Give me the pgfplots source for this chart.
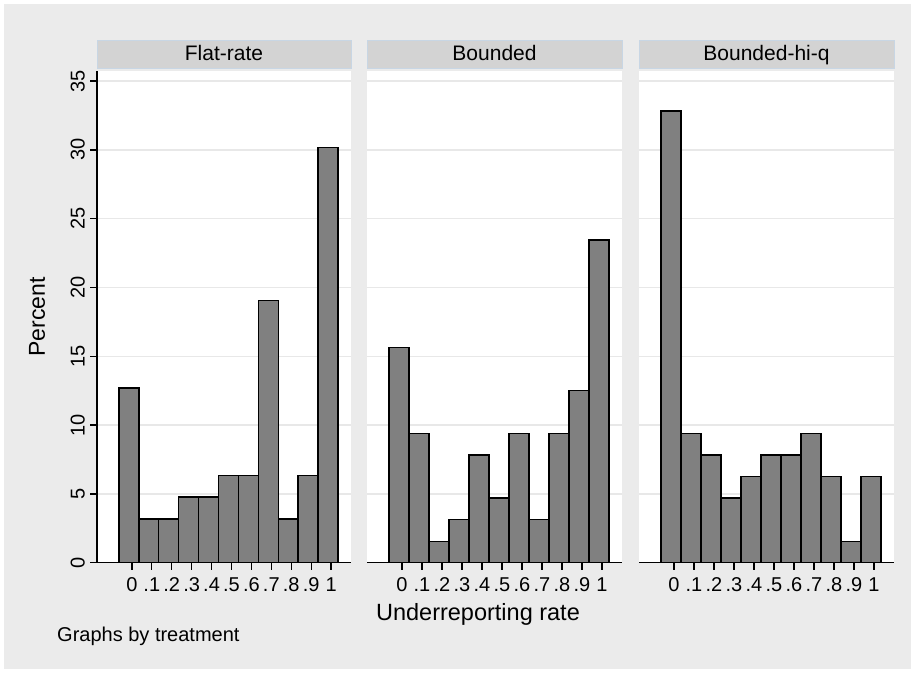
\documentclass[border=0pt]{standalone}
\usepackage{pgfplots}
\pgfplotsset{compat=1.18}
\usepackage{fontspec}
\setmainfont{Liberation Sans}
\definecolor{bgGray}{RGB}{235,235,235}
\definecolor{hdrGray}{RGB}{211,211,211}
\definecolor{hdrLine}{RGB}{200,214,228}
\definecolor{barGray}{RGB}{128,128,128}
\definecolor{gridGray}{RGB}{232,232,232}

\pgfplotstableread{
x y
0.0 12.698
0.1 3.175
0.2 3.175
0.3 4.762
0.4 4.762
0.5 6.349
0.6 6.349
0.7 19.048
0.8 3.175
0.9 6.349
1.0 30.159
}\flatrate
\pgfplotstableread{
x y
0.0 15.625
0.1 9.375
0.2 1.5625
0.3 3.125
0.4 7.8125
0.5 4.6875
0.6 9.375
0.7 3.125
0.8 9.375
0.9 12.5
1.0 23.4375
}\bounded
\pgfplotstableread{
x y
0.0 32.8125
0.1 9.375
0.2 7.8125
0.3 4.6875
0.4 6.25
0.5 7.8125
0.6 7.8125
0.7 9.375
0.8 6.25
0.9 1.5625
1.0 6.25
}\boundedhiq

\pgfplotsset{
  panel/.style={
    scale only axis, width=255pt, height=491.7pt,
    xmin=-0.175, xmax=1.1, ymin=0, ymax=35.73,
    axis background/.style={fill=white},
    separate axis lines,
    axis x line*=bottom, axis y line*=left,
    axis line style={line width=1.3pt, black, -},
    xtick={0,0.1,0.2,0.3,0.4,0.5,0.6,0.7,0.8,0.9,1},
    xticklabels={0,.1,.2,.3,.4,.5,.6,.7,.8,.9,1},
    ytick={0,5,10,15,20,25,30,35},
    ymajorgrids, grid style={gridGray, line width=1.5pt},
    tick align=outside, major tick length=7pt,
    tick style={black, line width=1.3pt},
    xticklabel style={font=\fontsize{20}{20}\selectfont, anchor=north, inner xsep=0pt, inner ysep=8pt},
    yticklabel style={font=\fontsize{20}{20}\selectfont, rotate=90, anchor=south, inner xsep=0pt, inner ysep=5pt},
    /pgf/number format/assume math mode=true,
  },
  nolefty/.style={
    y axis line style={draw=none},
    ytick style={draw=none},
    yticklabels={},
  },
  hbar/.style={ybar, bar width=20pt, bar shift=-3pt, fill=barGray, draw=black, line width=1.4pt},
}

\begin{document}
\begin{tikzpicture}[x=1pt,y=1pt]
\useasboundingbox (0,0) rectangle (915,673);
\fill[white] (0,0) rectangle (915,673);
\fill[bgGray] (4,4) rectangle (911,669);

% headers
\draw[hdrLine, fill=hdrGray, line width=0.6pt] (97,605) rectangle (351,633);
\draw[hdrLine, fill=hdrGray, line width=0.6pt] (367,605) rectangle (622,633);
\draw[hdrLine, fill=hdrGray, line width=0.6pt] (639,605) rectangle (894,633);
\node[anchor=base] at (224,612) {\fontsize{21}{21}\selectfont Flat-rate};
\node[anchor=base] at (494.5,612) {\fontsize{21}{21}\selectfont Bounded};
\node[anchor=base] at (766.5,612) {\fontsize{21}{21}\selectfont Bounded-hi-q};

\begin{axis}[panel, at={(97pt,110.3pt)}, anchor=south west, width=254pt]
  \addplot[hbar] table[x=x, y=y] {\flatrate};
\end{axis}
\begin{axis}[panel, nolefty, at={(367pt,110.3pt)}, anchor=south west]
  \addplot[hbar] table[x=x, y=y] {\bounded};
\end{axis}
\begin{axis}[panel, nolefty, at={(639pt,110.3pt)}, anchor=south west]
  \addplot[hbar] table[x=x, y=y] {\boundedhiq};
\end{axis}

\node[rotate=90] at (37,356) {\fontsize{23}{23}\selectfont Percent};
\node[anchor=base] at (478,53) {\fontsize{23.5}{23.5}\selectfont Underreporting rate};
\node[anchor=base west, inner sep=0pt] at (57,32) {\fontsize{20}{20}\selectfont Graphs by treatment};
\end{tikzpicture}
\end{document}
